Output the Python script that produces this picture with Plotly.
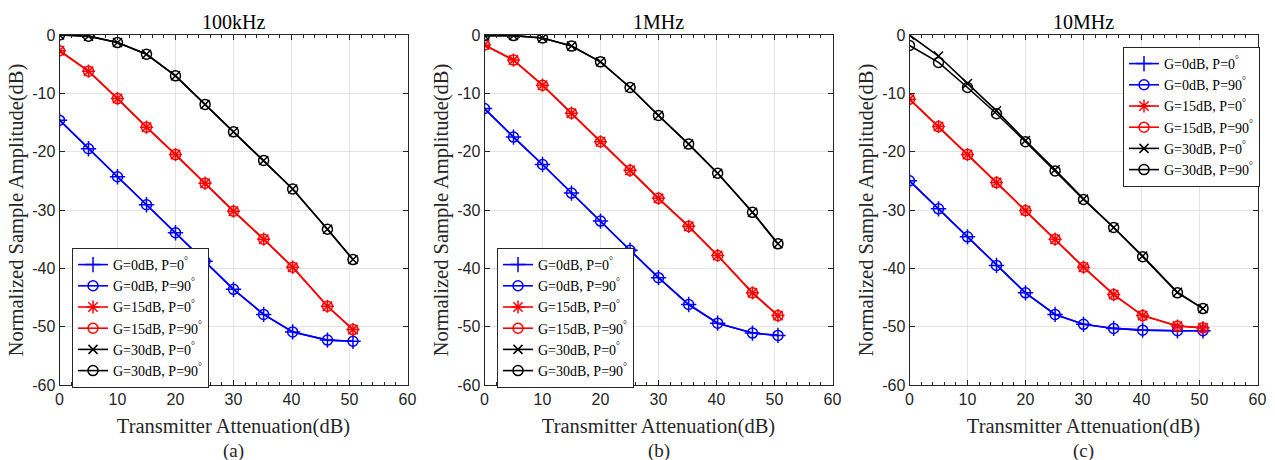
import plotly.graph_objects as go

# ---------------- data ----------------
atten = [0, 5, 10, 15, 20, 25.1, 30, 35.2, 40.2, 46.2, 50.6]
panel_titles = ["100kHz", "1MHz", "10MHz"]
panel_labels = ["(a)", "(b)", "(c)"]

# 100kHz
a_g0_p0 = [-14.6, -19.5, -24.3, -29.1, -33.9, -38.8, -43.6, -47.9, -50.9, -52.3, -52.5]
a_g0_p90 = [-14.6, -19.5, -24.3, -29.1, -33.9, -38.8, -43.6, -47.9, -50.9, -52.3, -52.5]
a_g15_p0 = [-2.7, -6.2, -10.9, -15.8, -20.5, -25.4, -30.2, -35.0, -39.8, -46.5, -50.5]
a_g15_p90 = [-2.7, -6.2, -10.9, -15.8, -20.5, -25.4, -30.2, -35.0, -39.8, -46.5, -50.5]
a_g30_p0 = [0.0, -0.2, -1.3, -3.3, -7.0, -11.9, -16.6, -21.5, -26.4, -33.3, -38.5]
a_g30_p90 = [0.0, -0.2, -1.3, -3.3, -7.0, -11.9, -16.6, -21.5, -26.4, -33.3, -38.5]

# 1MHz
b_g0_p0 = [-12.6, -17.5, -22.2, -27.1, -31.9, -36.9, -41.6, -46.2, -49.4, -51.1, -51.5]
b_g0_p90 = [-12.6, -17.5, -22.2, -27.1, -31.9, -36.9, -41.6, -46.2, -49.4, -51.1, -51.5]
b_g15_p0 = [-1.7, -4.3, -8.6, -13.4, -18.3, -23.2, -28.0, -32.8, -37.8, -44.2, -48.1]
b_g15_p90 = [-1.7, -4.3, -8.6, -13.4, -18.3, -23.2, -28.0, -32.8, -37.8, -44.2, -48.1]
b_g30_p0 = [-0.1, -0.1, -0.5, -1.9, -4.6, -9.0, -13.8, -18.7, -23.7, -30.4, -35.8]
b_g30_p90 = [-0.1, -0.1, -0.5, -1.9, -4.6, -9.0, -13.8, -18.7, -23.7, -30.4, -35.8]

# 10MHz
c_g0_p0 = [-25.0, -29.8, -34.6, -39.5, -44.2, -47.9, -49.6, -50.3, -50.6, -50.7, -50.7]
c_g0_p90 = [-25.0, -29.8, -34.6, -39.5, -44.2, -47.9, -49.6, -50.3, -50.6, -50.7, -50.7]
c_g15_p0 = [-11.0, -15.7, -20.5, -25.3, -30.1, -35.0, -39.8, -44.5, -48.1, -49.9, -50.2]
c_g15_p90 = [-11.0, -15.7, -20.5, -25.3, -30.1, -35.0, -39.8, -44.5, -48.1, -49.9, -50.2]
c_g30_p0 = [0.0, -3.6, -8.3, -13.0, -18.1, -23.1, -28.1, -33.0, -37.9, -44.1, -46.9]
c_g30_p90 = [-1.8, -4.7, -9.0, -13.5, -18.3, -23.3, -28.2, -33.0, -38.0, -44.2, -46.9]

series_names = ["G=0dB, P=0<sup>°</sup>", "G=0dB, P=90<sup>°</sup>",
                "G=15dB, P=0<sup>°</sup>", "G=15dB, P=90<sup>°</sup>",
                "G=30dB, P=0<sup>°</sup>", "G=30dB, P=90<sup>°</sup>"]

x_ticks = [0, 10, 20, 30, 40, 50, 60]
x_ticktext = ["0", "10", "20", "30", "40", "50", "60"]
y_ticks = [0, -10, -20, -30, -40, -50, -60]
y_ticktext = ["0", "-10", "-20", "-30", "-40", "-50", "-60"]

panels = [
    [a_g0_p0, a_g0_p90, a_g15_p0, a_g15_p90, a_g30_p0, a_g30_p90],
    [b_g0_p0, b_g0_p90, b_g15_p0, b_g15_p90, b_g30_p0, b_g30_p90],
    [c_g0_p0, c_g0_p90, c_g15_p0, c_g15_p90, c_g30_p0, c_g30_p90],
]

# ---------------- styling ----------------
colors = ["#0000FF", "#0000FF", "#FF0000", "#FF0000", "#000000", "#000000"]
symbols = ["cross-thin", "circle-open", "asterisk-open", "circle-open", "x-thin", "circle-open"]
sizes = [11, 10, 11, 10, 9, 10]

W, H = 1275, 460
x_dom_px = [(59.5, 407.5), (484.5, 832.5), (909.5, 1257.5)]
y_top_px, y_bot_px = 35, 385
legend_pos_px = [(72, 248), (497, 248), (1123, 47)]

serif = "Liberation Serif"
sans = "Liberation Sans"

fig = go.Figure()

for p, data in enumerate(panels):
    suffix = "" if p == 0 else str(p + 1)
    lg = "legend" if p == 0 else "legend" + str(p + 1)
    for s, ys in enumerate(data):
        fig.add_trace(go.Scatter(
            x=atten, y=ys, mode="lines+markers", name=series_names[s],
            xaxis="x" + suffix, yaxis="y" + suffix, legend=lg,
            line=dict(color=colors[s], width=1.6),
            marker=dict(symbol=symbols[s], size=sizes[s], color=colors[s],
                        line=dict(color=colors[s], width=1.5)),
        ))

layout = dict(
    width=W, height=H,
    margin=dict(l=0, r=0, t=0, b=0, autoexpand=False),
    paper_bgcolor="white", plot_bgcolor="white",
    showlegend=True,
    font=dict(family=serif),
    annotations=[],
)

for p in range(3):
    suffix = "" if p == 0 else str(p + 1)
    x0, x1 = x_dom_px[p]
    layout["xaxis" + suffix] = dict(
        domain=[x0 / W, x1 / W], anchor="y" + suffix, automargin=False,
        range=[0, 60], tickvals=x_ticks, ticktext=x_ticktext,
        ticks="inside", ticklen=5, tickcolor="#262626",
        minor=dict(ticks="inside", dtick=2, tick0=0, ticklen=3, tickcolor="#262626", showgrid=False),
        showgrid=True, gridcolor="#E3E3E3", gridwidth=1,
        showline=True, linecolor="#262626", linewidth=1, mirror="ticks",
        zeroline=False,
        tickfont=dict(family=sans, size=16, color="#262626"),
        title=dict(text="Transmitter Attenuation(dB)", font=dict(family=serif, size=20.5, color="#262626"), standoff=11),
    )
    layout["yaxis" + suffix] = dict(
        domain=[1 - y_bot_px / H, 1 - y_top_px / H], anchor="x" + suffix, automargin=False,
        range=[-60, 0], tickvals=y_ticks, ticktext=y_ticktext,
        ticks="inside", ticklen=5, tickcolor="#262626",
        showgrid=True, gridcolor="#E3E3E3", gridwidth=1,
        showline=True, linecolor="#262626", linewidth=1, mirror="ticks",
        zeroline=False,
        tickfont=dict(family=sans, size=16, color="#262626"),
        title=dict(text="Normalized Sample Amplitude(dB)", font=dict(family=serif, size=20.5, color="#262626"), standoff=2),
    )
    lg = "legend" if p == 0 else "legend" + str(p + 1)
    lx, ly = legend_pos_px[p]
    layout[lg] = dict(
        x=lx / W, y=1 - ly / H, xanchor="left", yanchor="top",
        xref="paper", yref="paper",
        bgcolor="white", bordercolor="#262626", borderwidth=1,
        font=dict(family=serif, size=14, color="#000000"),
        tracegroupgap=0, itemwidth=30,
    )
    cx = (x0 + x1) / 2 / W
    layout["annotations"].append(dict(
        text=panel_titles[p], x=cx, y=1 - 22 / H, xref="paper", yref="paper",
        showarrow=False, xanchor="center", yanchor="middle",
        font=dict(family=serif, size=20, color="#000000"),
    ))
    layout["annotations"].append(dict(
        text=panel_labels[p], x=cx, y=1 - 451 / H, xref="paper", yref="paper",
        showarrow=False, xanchor="center", yanchor="middle",
        font=dict(family=serif, size=19, color="#262626"),
    ))

fig.update_layout(**layout)
fig.write_html("out.html")
